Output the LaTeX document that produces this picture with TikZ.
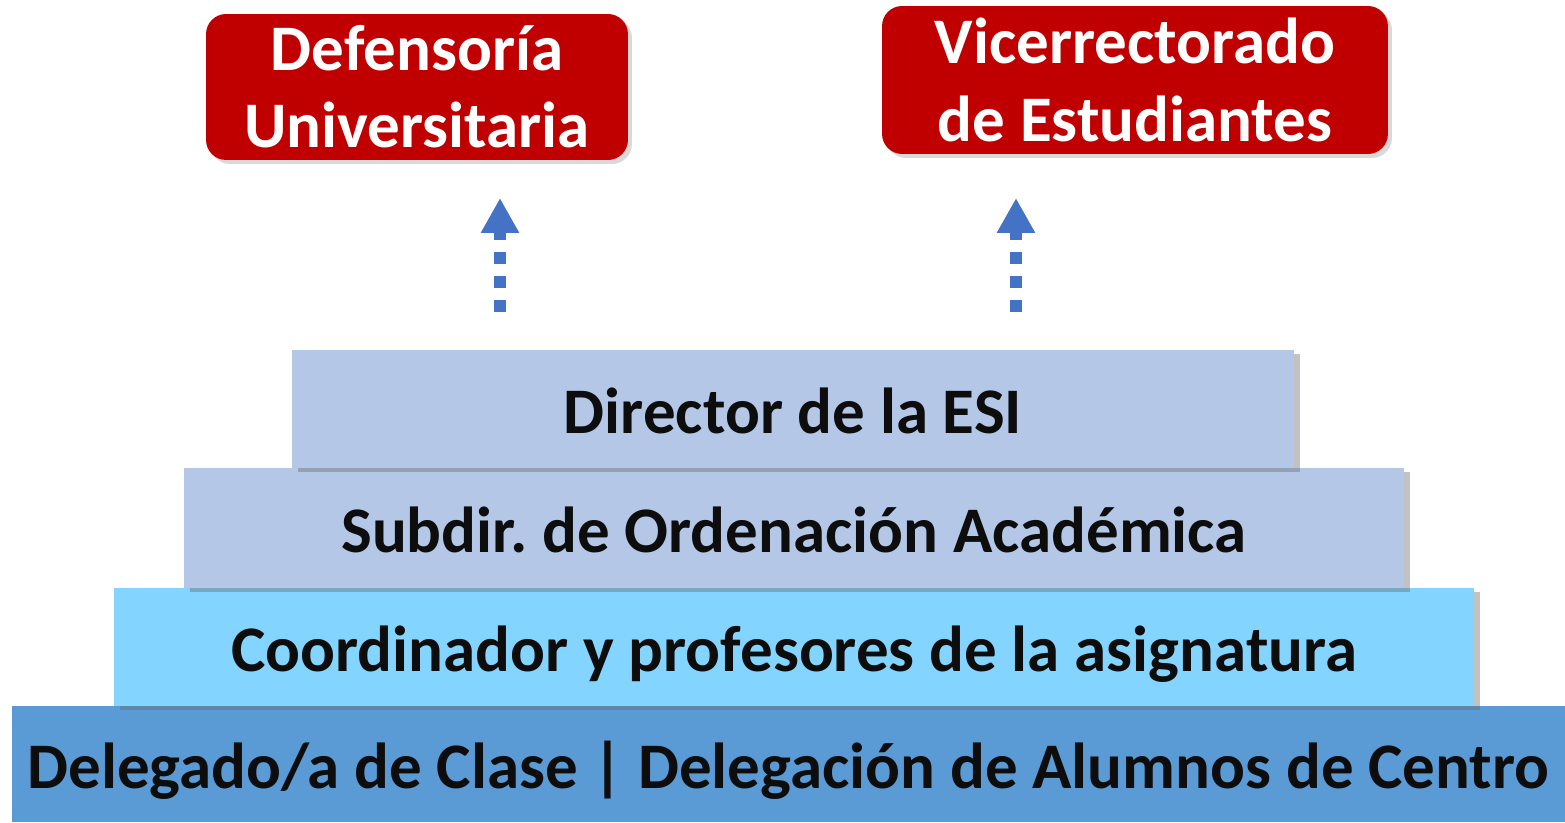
\documentclass[tikz,border=0pt]{standalone}
\usepackage{fontspec}
\setmainfont{Carlito}
\usetikzlibrary{arrows.meta,shadows}
\definecolor{rojo}{HTML}{C00000}
\definecolor{azulbase}{HTML}{5B9BD5}
\definecolor{celeste}{HTML}{83D5FF}
\definecolor{lavanda}{HTML}{B4C7E7}
\definecolor{flecha}{HTML}{4472C4}
\definecolor{texto}{HTML}{0D0D0D}
\frenchspacing
\begin{document}
\begin{tikzpicture}[x=0.02cm,y=0.02cm,
  level/.style={rectangle,inner sep=0pt,font=\fontsize{37}{40}\selectfont\bfseries,text=texto,
    text height=29.6pt,text depth=2.2pt},
  levelshadow/.style={drop shadow={shadow xshift=0.12cm,shadow yshift=-0.08cm,opacity=0.4,fill=black!60}},
  redbox/.style={rectangle,rounded corners=0.4cm,fill=rojo,text=white,align=center,inner sep=0pt,
    font=\fontsize{37}{44}\selectfont\bfseries,
    drop shadow={shadow xshift=0.08cm,shadow yshift=-0.08cm,opacity=0.3,fill=black!50}},
  upflow/.style={flecha,line width=0.24cm,dash pattern=on 0.24cm off 0.24cm,
    -{Triangle[width=0.72cm,length=0.7cm]}}]
\useasboundingbox (0,0) rectangle (1565,822);
% pyramid, from the bottom up
\node[level,fill=azulbase,minimum width=31.06cm,minimum height=2.32cm] (delegado) at (788.5,58)
  {Delegado/a de Clase | Delegación de Alumnos de Centro};
\node[level,fill=celeste,levelshadow,minimum width=27.2cm,minimum height=2.36cm] (coordinador) at (794,175)
  {Coordinador y profesores de la asignatura};
\node[level,fill=lavanda,levelshadow,minimum width=24.4cm,minimum height=2.4cm] (subdir) at (794,294)
  {Subdir. de Ordenación Académica};
\node[level,fill=lavanda,levelshadow,minimum width=20.04cm,minimum height=2.36cm] (director) at (793,413)
  {Director de la ESI};
% top boxes
\node[redbox,minimum width=8.44cm,minimum height=2.92cm] (defensoria) at (417,735)
  {Defensoría\\Universitaria};
\node[redbox,minimum width=10.12cm,minimum height=2.96cm] (vicerrector) at (1135,742)
  {Vicerrectorado\\de Estudiantes};
% dotted arrows
\coordinate (d0) at (500,510);
\coordinate (d1) at (500,624);
\coordinate (v0) at (1016,510);
\coordinate (v1) at (1016,624);
\draw[upflow] (d0) -- (d1);
\draw[upflow] (v0) -- (v1);
\end{tikzpicture}
\end{document}
